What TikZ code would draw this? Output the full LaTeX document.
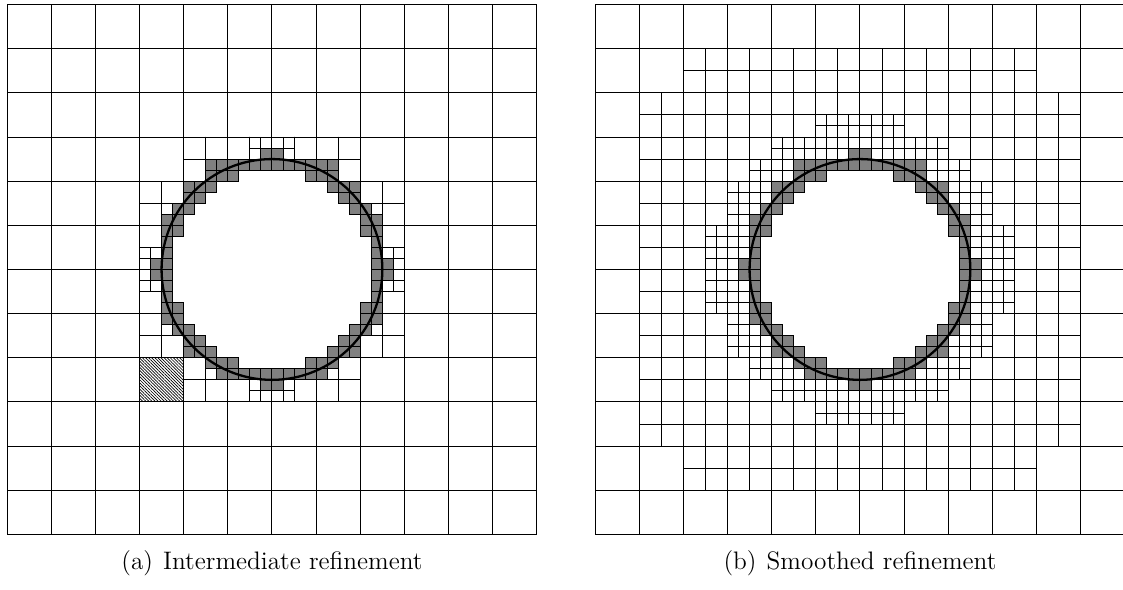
\documentclass[tikz,border=0pt]{standalone}
\usepackage{tikz}
\usetikzlibrary{patterns.meta}
\definecolor{kCut}{gray}{0.5}
\newcommand{\cutcells}{13/{23,24},14/{18,...,29},15/{18,19,20,27,28,29},16/{16,17,18,29,30,31},17/{16,17,30,31},18/{15,16,31,32},19/{14,15,32,33},20/{14,15,32,33},21/{14,33},22/{14,33},23/{13,14,33,34},24/{13,14,33,34},25/{14,33},26/{14,33},27/{14,15,32,33},28/{14,15,32,33},29/{15,16,31,32},30/{16,17,30,31},31/{16,17,18,29,30,31},32/{18,19,20,27,28,29},33/{19,...,28},34/{23,24}}
\newcommand{\splitcoarse}{1/{2,...,9},2/{1,...,10},3/{1,...,10},4/{1,...,10},5/{1,...,10},6/{1,...,10},7/{1,...,10},8/{1,...,10},9/{1,...,10},10/{2,...,9}}
\newcommand{\splitlevel}{5/{10,...,13},6/{8,...,15},7/{7,...,16},8/{6,...,17},9/{6,...,17},10/{5,...,18},11/{5,...,18},12/{5,...,18},13/{5,...,18},14/{6,...,17},15/{6,...,17},16/{7,...,16},17/{8,...,15},18/{10,...,13}}

\begin{document}
\begin{tikzpicture}[x=0.435pt, y=-0.435pt, font=\fontsize{11}{13}\selectfont,
      mesh/.style={line width=0.42pt, black},
      cutcell/.style={fill=kCut, draw=black, line width=0.42pt},
      iface/.style={line width=1pt, black},
      fine/.style={x=4.8024pt, y=-4.8024pt}]
  \useasboundingbox (0,0) rectangle (1123,589);
  % (a) intermediate refinement
  \begin{scope}[shift={(7,4.5)}, fine]
    \foreach \k in {0,4,...,48} {\draw[mesh] (\k,0) -- (\k,48) (0,\k) -- (48,\k);}
    \foreach \r/\cs in \cutcells \foreach \c in \cs {
      \pgfmathtruncatemacro\lx{2*floor(\c/2)}
      \pgfmathtruncatemacro\ly{2*floor(\r/2)}
      \pgfmathtruncatemacro\kx{4*floor(\c/4)}
      \pgfmathtruncatemacro\ky{4*floor(\r/4)}
      \draw[mesh] (\lx+1,\ly) -- ++(0,2) (\lx,\ly+1) -- ++(2,0)
                  (\kx+2,\ky) -- ++(0,4) (\kx,\ky+2) -- ++(4,0);
    }
    \draw[mesh, pattern={Lines[angle=-45, distance=0.95pt, line width=0.3pt]}] (12,32) rectangle (16,36);
    \fill[white] (24,24) circle[radius=10];
    \foreach \r/\cs in \cutcells \foreach \c in \cs {\draw[cutcell] (\c,\r) rectangle ++(1,1);}
    \draw[iface] (24,24) circle[radius=10];
  \end{scope}
  % (b) smoothed refinement
  \begin{scope}[shift={(595,4.5)}, fine]
    \foreach \k in {0,4,...,48} {\draw[mesh] (\k,0) -- (\k,48) (0,\k) -- (48,\k);}
    \foreach \r/\cs in \splitcoarse \foreach \c in \cs {
      \draw[mesh] (4*\c+2,4*\r) -- ++(0,4) (4*\c,4*\r+2) -- ++(4,0);
    }
    \foreach \r/\cs in \splitlevel \foreach \c in \cs {
      \draw[mesh] (2*\c+1,2*\r) -- ++(0,2) (2*\c,2*\r+1) -- ++(2,0);
    }
    \fill[white] (24,24) circle[radius=10];
    \foreach \r/\cs in \cutcells \foreach \c in \cs {\draw[cutcell] (\c,\r) rectangle ++(1,1);}
    \draw[iface] (24,24) circle[radius=10];
  \end{scope}
  \node[anchor=base] (capa) at (272,569.5) {(a)\hspace{0.4em}Intermediate refinement};
  \node[anchor=base] (capb) at (860,569.5) {(b)\hspace{0.4em}Smoothed refinement};
\end{tikzpicture}
\end{document}
